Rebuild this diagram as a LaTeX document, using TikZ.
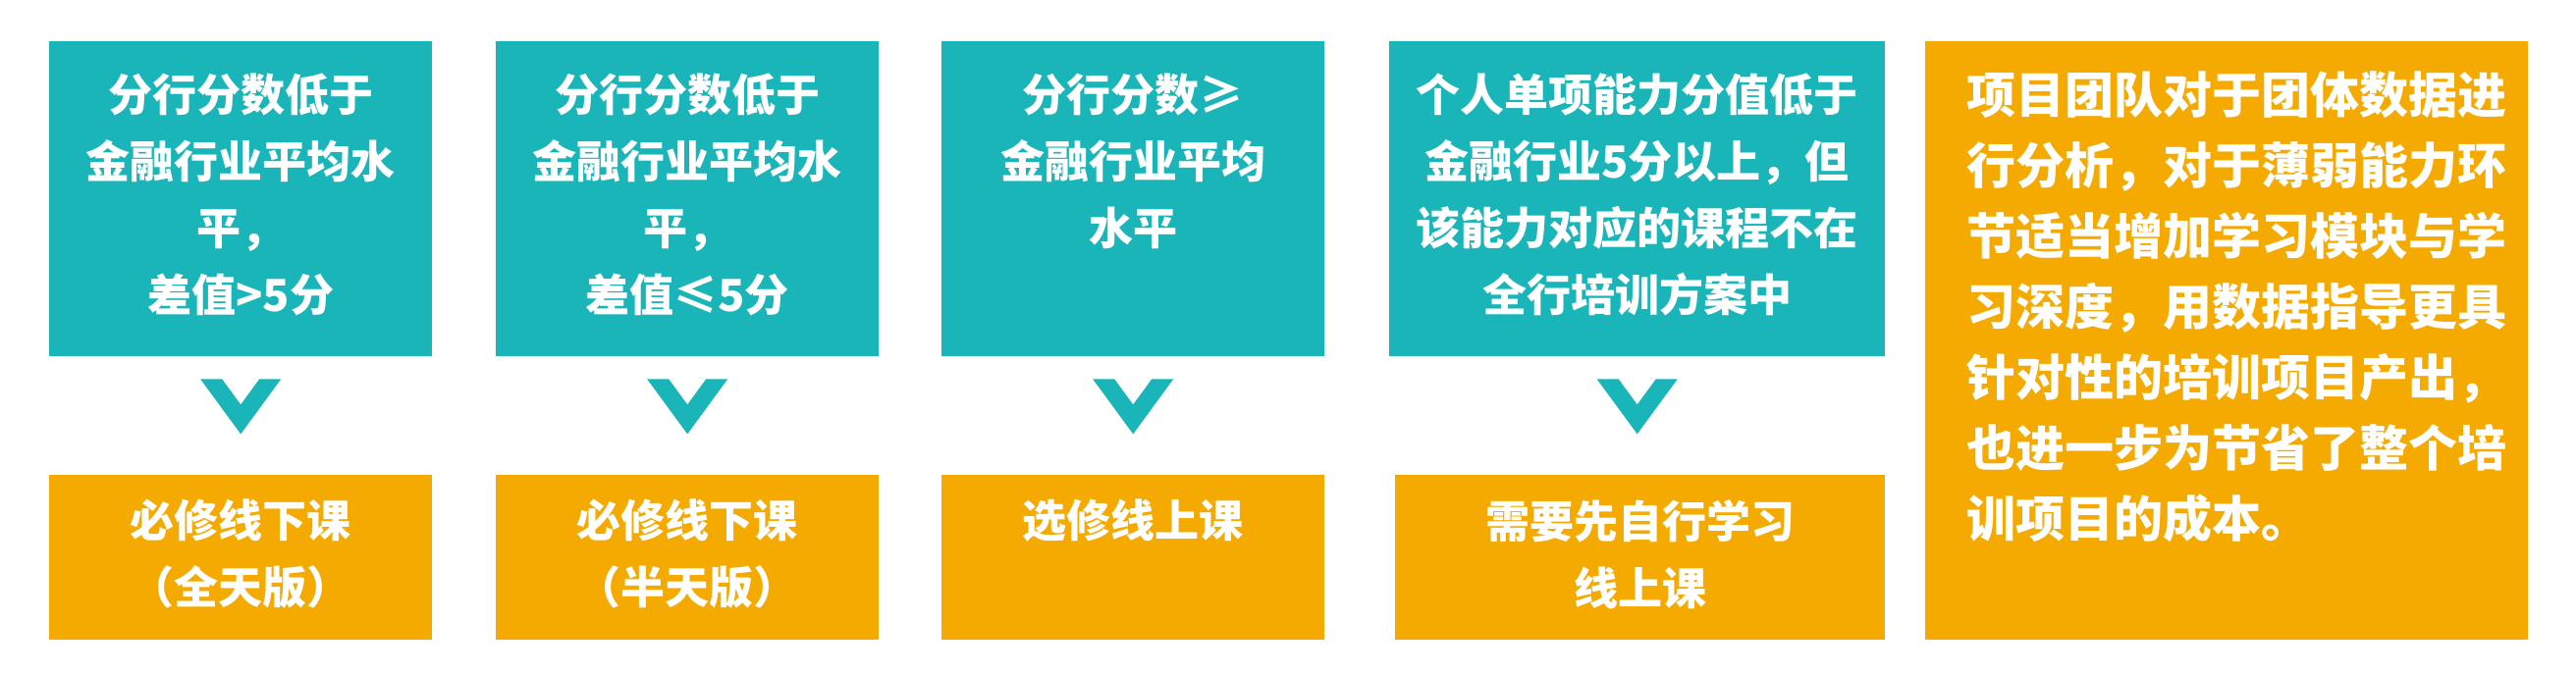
\documentclass[tikz,border=0pt]{standalone}
\usepackage{fontspec}
\setmainfont{Noto Sans CJK SC}
\definecolor{tealbox}{HTML}{19B5B8}
\definecolor{orangebox}{HTML}{F4AA00}
\tikzset{
  box/.style={fill=#1, draw=none, anchor=north west, inner sep=0pt},
  boxtext/.style={anchor=north, text=white, align=center, inner sep=0pt,
    font=\bfseries\fontsize{45}{68}\selectfont},
  chevron/.style={fill=tealbox, draw=none}
}
\newcommand{\chev}[1]{%
  \fill[chevron] ($(#1)+(-41,0)$) -- ++(22,0) -- ++(19,-26) -- ++(19,26)
    -- ++(22,0) -- ++(-41,-56) -- cycle;}
\usetikzlibrary{calc}
\begin{document}
\begin{tikzpicture}[x=1pt,y=1pt]
        \useasboundingbox (0,0) rectangle (2624,688);
        % obere Kästen
        \node[box=tealbox, minimum width=390, minimum height=321] (t1) at (50,646) {};
        \node[box=tealbox, minimum width=390, minimum height=321] (t2) at (505,646) {};
        \node[box=tealbox, minimum width=390, minimum height=321] (t3) at (959,646) {};
        \node[box=tealbox, minimum width=505, minimum height=321] (t4) at (1415,646) {};
        % untere Kästen
        \node[box=orangebox, minimum width=390, minimum height=168] (b1) at (50,204) {};
        \node[box=orangebox, minimum width=390, minimum height=168] (b2) at (505,204) {};
        \node[box=orangebox, minimum width=390, minimum height=168] (b3) at (959,204) {};
        \node[box=orangebox, minimum width=499, minimum height=168] (b4) at (1421,204) {};
        % rechter Kasten
        \node[box=orangebox, minimum width=614, minimum height=610] (r) at (1961,646) {};
        % Texte
        \node[boxtext] (t1txt) at ($(t1.north)+(0,-33)$) {分行分数低于\\金融行业平均水\\平，\\差值>5分};
        \node[boxtext] (t2txt) at ($(t2.north)+(0,-33)$) {分行分数低于\\金融行业平均水\\平，\\差值≤5分};
        \node[boxtext] (t3txt) at ($(t3.north)+(0,-33)$) {分行分数≥\\金融行业平均\\水平};
        \node[boxtext] (t4txt) at ($(t4.north)+(0,-33)$) {个人单项能力分值低于\\金融行业5分以上，但\\该能力对应的课程不在\\全行培训方案中};
        \node[boxtext] (b1txt) at ($(b1.north)+(0,-25)$) {必修线下课\\（全天版）};
        \node[boxtext] (b2txt) at ($(b2.north)+(0,-25)$) {必修线下课\\（半天版）};
        \node[boxtext] (b3txt) at ($(b3.north)+(0,-25)$) {选修线上课};
        \node[boxtext] (b4txt) at ($(b4.north)+(0,-25)$) {需要先自行学习\\线上课};
        \node[boxtext, anchor=north west, align=left,
          font=\bfseries\fontsize{50}{72}\selectfont] (rtxt) at ($(r.north west)+(42,-31)$)
          {项目团队对于团体数据进\\行分析，对于薄弱能力环\\节适当增加学习模块与学\\习深度，用数据指导更具\\针对性的培训项目产出，\\也进一步为节省了整个培\\训项目的成本。};
        % Pfeile
        \chev{$(t1.south)+(0,-23)$}
        \chev{$(t2.south)+(0,-23)$}
        \chev{$(t3.south)+(0,-23)$}
        \chev{$(t4.south)+(0,-23)$}
    \end{tikzpicture}
\end{document}
